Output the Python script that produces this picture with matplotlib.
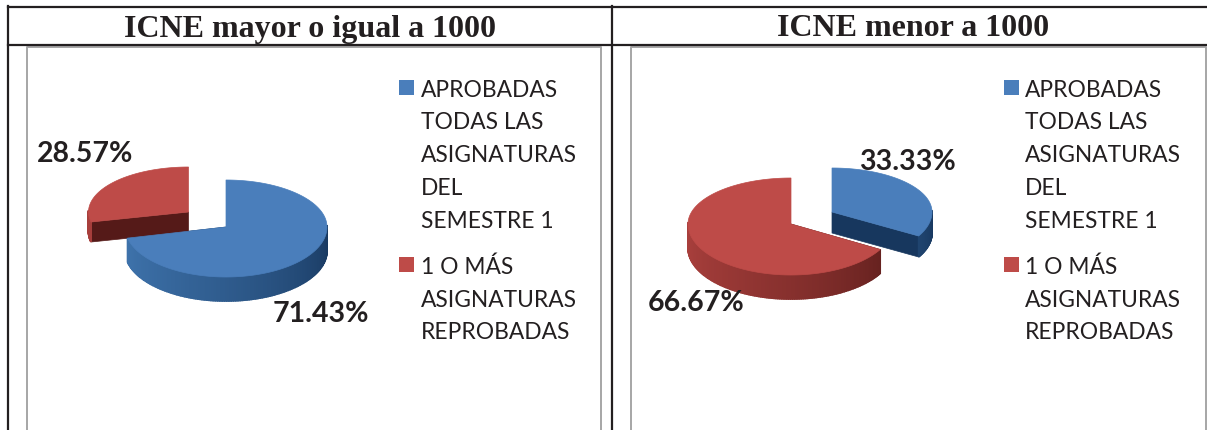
import matplotlib
matplotlib.use('Agg')
import matplotlib.pyplot as plt
import numpy as np

titles = ['ICNE mayor o igual a 1000', 'ICNE menor a 1000']
legend_1 = ['APROBADAS', 'TODAS LAS', 'ASIGNATURAS', 'DEL', 'SEMESTRE 1']
legend_2 = ['1 O MÁS', 'ASIGNATURAS', 'REPROBADAS']
aprobadas = [71.43, 33.33]
reprobadas = [28.57, 66.67]

BLUE = '#4a7ebb'
RED = '#be4b48'
BLUE_SIDE = ('#3f74ad', '#17375e')
RED_SIDE = ('#a83f3c', '#551a18')
DARK = '#231f20'
GREY = '#a6a6a6'


def mix(c1, c2, t):
    a = np.array(matplotlib.colors.to_rgb(c1))
    b = np.array(matplotlib.colors.to_rgb(c2))
    return a + (b - a) * t


def pts(cx, cy, rx, ry_back, ry_front, ang):
    # angle in degrees, clockwise from 12 o'clock
    a = np.radians(ang)
    ry = np.where(np.cos(a) > 0, ry_back, ry_front)
    return cx + rx * np.sin(a), cy - ry * np.cos(a)


def slice3d(ax, cx, cy, rx, ry_back, ry_front, depth, start, end, col, side):
    ang = np.linspace(start, end, 200)
    x, y = pts(cx, cy, rx, ry_back, ry_front, ang)

    # cut faces, the one at 12 o'clock is edge-on so skip it
    for a in [start, end]:
        if a % 360 == 0:
            continue
        px, py = pts(cx, cy, rx, ry_back, ry_front, a)
        ax.fill([cx, px, px, cx], [cy, py, py + depth, cy + depth],
                color=side[1], lw=0.5, zorder=2)

    # outer wall, only the front half shows
    for i in range(len(ang) - 1):
        mid = (ang[i] + ang[i + 1]) / 2 % 360
        if not 88 < mid < 272:
            continue
        t = np.clip((270 - mid) / 180, 0, 1)
        c = mix(side[0], side[1], t ** 1.3)
        ax.fill([x[i], x[i + 1], x[i + 1], x[i]],
                [y[i], y[i + 1], y[i + 1] + depth, y[i] + depth],
                color=c, lw=1.2, zorder=3)

    ax.fill(np.r_[cx, x], np.r_[cy, y], color=col, lw=0.5, zorder=4)


fig = plt.figure(figsize=(12.07, 4.31), dpi=100)
ax = fig.add_axes([0, 0, 1, 1])
ax.set_xlim(0, 1207)
ax.set_ylim(431, 0)
ax.axis('off')

# table frame
ax.plot([8, 1207], [7.5, 7.5], color=DARK, lw=1.6)
ax.plot([8, 1207], [46, 46], color=DARK, lw=1.6)
ax.plot([8, 8], [7, 431], color=DARK, lw=1.6)
ax.plot([612, 612], [7, 431], color=DARK, lw=1.6)

# grey chart borders
for x0, x1 in [(26.5, 601), (631, 1206)]:
    ax.plot([x0, x0, x1, x1], [431, 47.5, 47.5, 431], color=GREY, lw=1.4, zorder=1)

ax.text(310, 29, titles[0], family='Liberation Serif', weight='bold', fontsize=23,
        color=DARK, ha='center', va='center')
ax.text(913.5, 29, titles[1], family='Liberation Serif', weight='bold', fontsize=23,
        color=DARK, ha='center', va='center')

# left pie
end_blue = aprobadas[0] * 3.6
slice3d(ax, 226, 228, 101, 47, 50, 24, 0, end_blue, BLUE, BLUE_SIDE)
slice3d(ax, 188.5, 213, 100, 45, 45, 20, end_blue, 360, RED, RED_SIDE)

# right pie
end_blue = aprobadas[1] * 3.6
slice3d(ax, 791, 225, 103, 46, 51, 24, end_blue, 360, RED, RED_SIDE)
slice3d(ax, 832, 213, 100, 44, 48, 21, 0, end_blue, BLUE, BLUE_SIDE)

label_pos = [(85, 154, reprobadas[0]), (321, 314, aprobadas[0]),
             (907, 162, aprobadas[1]), (696, 303, reprobadas[1])]
for lx, ly, v in label_pos:
    ax.text(lx, ly, '%.2f%%' % v, family='Lato', weight='bold', fontsize=20.5,
            color=DARK, ha='center', va='center', zorder=6)

# legends
for sx, tx in [(399, 421), (1004, 1025)]:
    ax.fill([sx, sx + 15, sx + 15, sx], [81, 81, 96, 96], color=BLUE, lw=0)
    ax.fill([sx, sx + 15, sx + 15, sx], [258, 258, 273, 273], color=RED, lw=0)
    for s, ly in zip(legend_1, [90.5, 122.5, 155.5, 188.5, 221.5]):
        ax.text(tx, ly, s, family='Lato', fontsize=16.4, color=DARK, ha='left', va='center')
    for s, ly in zip(legend_2, [267.5, 300.5, 332.5]):
        ax.text(tx, ly, s, family='Lato', fontsize=16.4, color=DARK, ha='left', va='center')

fig.savefig('out.png', dpi=100)
